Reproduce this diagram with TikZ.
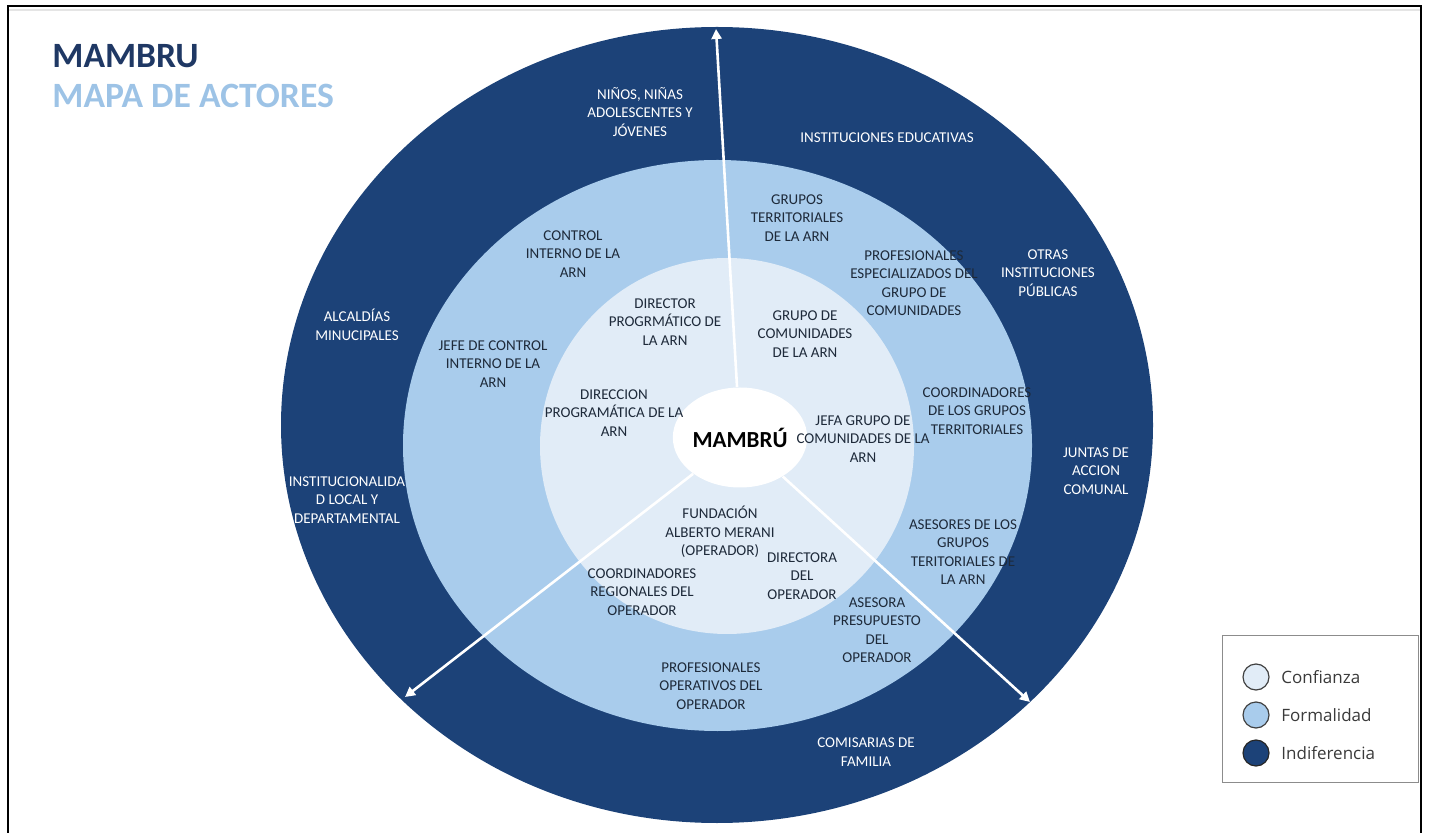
\documentclass[tikz,border=0pt]{standalone}
\usepackage{fontspec}
\setmainfont{Carlito}
\newfontfamily\legendfont{Open Sans}
\usetikzlibrary{arrows.meta,shapes.geometric}

\definecolor{ringdark}{HTML}{1C4278}
\definecolor{ringmid}{HTML}{A9CCEC}
\definecolor{ringin}{HTML}{E1ECF7}
\definecolor{titlenavy}{HTML}{1F3864}
\definecolor{titlesky}{HTML}{9DC3E6}
\definecolor{labeldark}{HTML}{1E2A3A}
\definecolor{legendink}{HTML}{3A3A3A}

\begin{document}
\begin{tikzpicture}[x=0.5pt,y=-0.5pt,
  lbl/.style={align=center, inner sep=0pt, font=\fontsize{7.5}{9.25}\selectfont},
  lightlbl/.style={lbl, text=white},
  darklbl/.style={lbl, text=labeldark},
  ray/.style={draw=white, line width=1.3pt, -{Triangle[width=5pt,length=5pt]}},
  legdot/.style={circle, minimum size=13pt, inner sep=0pt, draw=black!75, line width=0.6pt},
  legtext/.style={anchor=west, inner sep=0pt, text=legendink, font=\legendfont\fontsize{8.5}{10}\selectfont}
]
\useasboundingbox (0,0) rectangle (1429,833);

% page frame (its lower edge lies below the page)
\draw[black!10, line width=1pt] (9,10) -- (1420,10);
\draw[black, line width=0.9pt] (8,6) rectangle (1421,845);

% title
\node[anchor=base west, inner sep=0pt, text=titlenavy, font=\bfseries\fontsize{17.8}{20}\selectfont] (title) at (52,68) {MAMBRU};
\node[anchor=base west, inner sep=0pt, text=titlesky, font=\bfseries\fontsize{17.8}{20}\selectfont] (subtitle) at (52,108) {MAPA DE ACTORES};

% three rings
\fill[ringdark] (717,425) ellipse [x radius=218pt, y radius=199pt];
\fill[ringmid] (717.5,445.5) ellipse [x radius=157.25pt, y radius=142.75pt];
\fill[ringin] (727,446) ellipse [x radius=93.5pt, y radius=94pt];

% hub
\node[ellipse, fill=white, minimum width=60pt, minimum height=50pt, inner sep=0pt,
      text=black, font=\bfseries\fontsize{11.5}{12}\selectfont] (hub) at (740,437.5) {MAMBRÚ};

% rays
\coordinate (tipN) at (716,29);
\coordinate (tipSW) at (405,697);
\coordinate (tipSE) at (1030,702);
\draw[ray] (hub) -- (tipN);
\draw[ray] (hub) -- (tipSW);
\draw[ray] (hub) -- (tipSE);

% outer ring: indiferencia
\node[lightlbl] (ninos) at (640,112) {NIÑOS, NIÑAS\\ADOLESCENTES Y\\JÓVENES};
\node[lightlbl] (educ) at (887,138) {INSTITUCIONES EDUCATIVAS};
\node[lightlbl] (otras) at (1048,273) {OTRAS\\INSTITUCIONES\\PÚBLICAS};
\node[lightlbl] (alcal) at (357,325) {ALCALDÍAS\\MINUCIPALES};
\node[lightlbl] (instloc) at (347,500) {INSTITUCIONALIDA\\D LOCAL Y\\DEPARTAMENTAL};
\node[lightlbl] (juntas) at (1096,471) {JUNTAS DE\\ACCION\\COMUNAL};
\node[lightlbl] (comis) at (866,752) {COMISARIAS DE\\FAMILIA};

% middle ring: formalidad
\node[darklbl] (ctrl) at (573,254) {CONTROL\\INTERNO DE LA\\ARN};
\node[darklbl] (gterr) at (797,218) {GRUPOS\\TERRITORIALES\\DE LA ARN};
\node[darklbl] (profesp) at (914,283) {PROFESIONALES\\ESPECIALIZADOS DEL\\GRUPO DE\\COMUNIDADES};
\node[darklbl] (jefectrl) at (493,364) {JEFE DE CONTROL\\INTERNO DE LA\\ARN};
\node[darklbl] (coordgt) at (977,411) {COORDINADORES\\DE LOS GRUPOS\\TERRITORIALES};
\node[darklbl] (asesgt) at (963,552) {ASESORES DE LOS\\GRUPOS\\TERITORIALES DE\\LA ARN};
\node[darklbl] (asespre) at (877,630) {ASESORA\\PRESUPUESTO\\DEL\\OPERADOR};
\node[darklbl] (profop) at (711,686) {PROFESIONALES\\OPERATIVOS DEL\\OPERADOR};
\node[darklbl] (coordreg) at (642,592) {COORDINADORES\\REGIONALES DEL\\OPERADOR};

% inner ring: confianza
\node[darklbl] (dirprog) at (665,322) {DIRECTOR\\PROGRMÁTICO DE\\LA ARN};
\node[darklbl] (gcom) at (805,334) {GRUPO DE\\COMUNIDADES\\DE LA ARN};
\node[darklbl] (direccion) at (614,413) {DIRECCION\\PROGRAMÁTICA DE LA\\ARN};
\node[darklbl] (jefagc) at (863,439) {JEFA GRUPO DE\\COMUNIDADES DE LA\\ARN};
\node[darklbl] (fundacion) at (720,532) {FUNDACIÓN\\ALBERTO MERANI\\(OPERADOR)};
\node[darklbl] (directora) at (802,576) {DIRECTORA\\DEL\\OPERADOR};

% legend
\draw[black!45, line width=0.5pt] (1222,635) rectangle (1418,782);
\node[legdot, fill=ringin] (dotA) at (1256,677) {};
\node[legdot, fill=ringmid] (dotB) at (1256,715) {};
\node[legdot, fill=ringdark, draw=black!85] (dotC) at (1256,753) {};
\node[legtext] (legA) at (1281,677) {Confianza};
\node[legtext] (legB) at (1281,715) {Formalidad};
\node[legtext] (legC) at (1281,753) {Indiferencia};
\end{tikzpicture}
\end{document}
